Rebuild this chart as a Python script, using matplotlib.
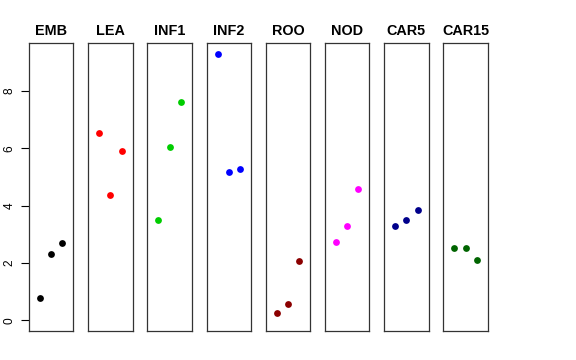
import matplotlib
matplotlib.use("Agg")
import matplotlib.pyplot as plt

plt.rcParams['font.family'] = ['Liberation Sans', 'DejaVu Sans']

# tissue panels and the three values per panel
tissues = ['EMB', 'LEA', 'INF1', 'INF2', 'ROO', 'NOD', 'CAR5', 'CAR15']
values = [
    [0.79, 2.32, 2.71],
    [6.52, 4.39, 5.91],
    [3.50, 6.03, 7.63],
    [9.30, 5.18, 5.29],
    [0.27, 0.57, 2.08],
    [2.72, 3.29, 4.58],
    [3.28, 3.50, 3.86],
    [2.51, 2.52, 2.11],
]
colors = ['black', 'red', '#00CD00', 'blue', '#8B0000', 'magenta', '#00008B', '#006400']
reps = [1, 2, 3]
yticks = [0, 2, 4, 6, 8]

fig, axes = plt.subplots(1, 8, figsize=(5.76, 3.6), dpi=100, sharey=True)
fig.subplots_adjust(left=0.0503, right=0.847, bottom=0.0814, top=0.881, wspace=0.33)

for i, ax in enumerate(axes):
    ax.scatter(reps, values[i], s=24, color=colors[i], linewidths=0, zorder=3)
    ax.set_xlim(0, 4)
    ax.set_ylim(-0.36, 9.68)
    ax.set_title(tissues[i], fontsize=10.4, fontweight='bold', pad=6)
    for sp in ax.spines.values():
        sp.set_color('#333333')
        sp.set_linewidth(0.9)
    ax.set_xticks([])
    if i == 0:
        ax.set_yticks(yticks)
        ax.set_yticklabels([str(t) for t in yticks], rotation=90, va='center', fontsize=8.6)
        ax.tick_params(axis='y', length=5.8, width=0.8, pad=4)
    else:
        ax.tick_params(axis='y', left=False, labelleft=False)

fig.savefig('out.png', dpi=100)
